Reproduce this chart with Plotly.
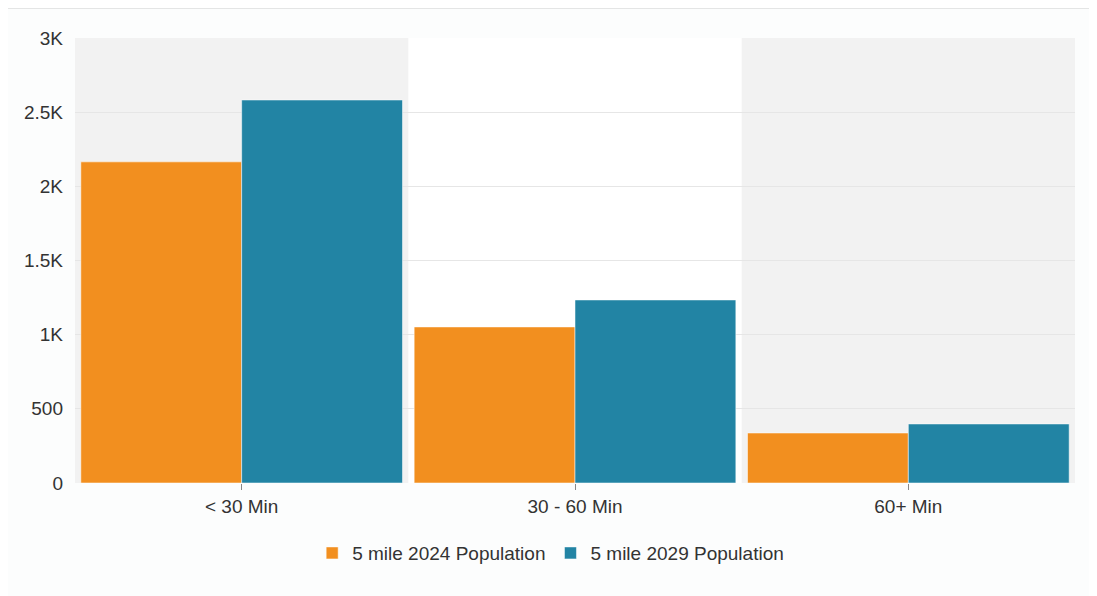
import plotly.graph_objects as go

categories = ["< 30 Min", "30 - 60 Min", "60+ Min"]
pop_2024 = [2165, 1052, 337]
pop_2029 = [2582, 1234, 398]
series_names = ["5 mile 2024 Population", "5 mile 2029 Population"]
y_tickvals = [0, 500, 1000, 1500, 2000, 2500, 3000]
y_ticktext = ["0", "500", "1K", "1.5K", "2K", "2.5K", "3K"]

ORANGE = "#f28f1f"
BLUE = "#2284a4"

fig = go.Figure()
fig.add_trace(go.Bar(x=categories, y=pop_2024, name=series_names[0],
                     marker=dict(color=ORANGE, line=dict(color="rgba(255,255,255,0.5)", width=1))))
fig.add_trace(go.Bar(x=categories, y=pop_2029, name=series_names[1],
                     marker=dict(color=BLUE, line=dict(color="rgba(255,255,255,0.5)", width=1))))

shapes = []
for i in range(len(categories)):
    if i % 2 == 0:
        shapes.append(dict(type="rect", xref="x", yref="paper", x0=i - 0.5, x1=i + 0.5,
                           y0=0, y1=1, fillcolor="#f2f2f2", line=dict(width=0), layer="below"))
shapes.append(dict(type="line", xref="paper", yref="paper", x0=-0.1, x1=1.1,
                   y0=1.068, y1=1.068, line=dict(color="#dcdcdc", width=2)))

fig.update_layout(
    width=1081, height=588,
    margin=dict(l=67, r=14, t=30, b=113),
    paper_bgcolor="#fcfdfd", plot_bgcolor="#ffffff",
    barmode="group", bargap=0.035, bargroupgap=0,
    font=dict(family="Liberation Sans, Arial, sans-serif", size=19, color="#333333"),
    shapes=shapes,
    showlegend=True,
    legend=dict(orientation="h", xref="container", x=0.502, xanchor="center",
                yref="container", y=0.073, yanchor="middle",
                font=dict(size=19, color="#333333"), itemwidth=30),
    xaxis=dict(range=[-0.5, 2.5], showgrid=False, ticks="outside", ticklen=6,
               tickcolor="#888888", tickwidth=1, showline=False, zeroline=False,
               tickfont=dict(size=19, color="#333333")),
    yaxis=dict(range=[0, 3000], tickvals=y_tickvals, ticktext=y_ticktext,
               showgrid=True, gridcolor="#e6e6e6", gridwidth=1, zeroline=False,
               showline=False, ticklabelstandoff=11,
               tickfont=dict(size=19, color="#333333")),
)

fig.write_html("out.html")
